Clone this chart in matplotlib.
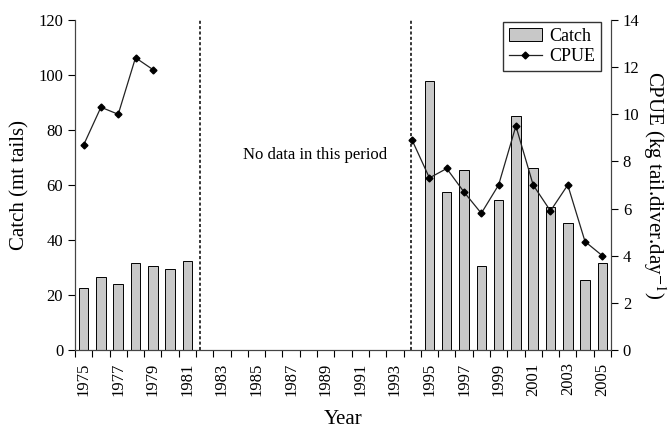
import numpy as np
import matplotlib
matplotlib.use('Agg')
import matplotlib.pyplot as plt

plt.rcParams['font.family'] = ['Liberation Serif', 'DejaVu Serif']
plt.rcParams['mathtext.fontset'] = 'stix'

years = list(range(1975, 2006))
catch = [22.5, 26.5, 24, 31.6, 30.5, 29.5, 32.2,
         np.nan, np.nan, np.nan, np.nan, np.nan, np.nan, np.nan,
         np.nan, np.nan, np.nan, np.nan, np.nan, np.nan,
         98, 57.5, 65.5, 30.5, 54.5, 85, 66, 52, 46, 25.5, 31.5]
cpue = [8.7, 10.3, 10.0, 12.4, 11.9, np.nan, np.nan,
        np.nan, np.nan, np.nan, np.nan, np.nan, np.nan, np.nan,
        np.nan, np.nan, np.nan, np.nan, np.nan,
        8.9, 7.3, 7.7, 6.7, 5.8, 7.0, 9.5, 7.0, 5.9, 7.0, 4.6, 4.0]

x = np.arange(len(years))

fig = plt.figure(figsize=(6.72, 4.33), dpi=100)
ax = fig.add_axes([0.1116, 0.1917, 0.7976, 0.7621])
ax2 = ax.twinx()

bars = ax.bar(x, catch, width=0.55, color='#c8c8c8', edgecolor='black', linewidth=0.7, label='Catch')
line, = ax2.plot(x, cpue, color='#222222', linewidth=0.9, marker='D', markersize=3.5,
                 markerfacecolor='black', markeredgecolor='black', label='CPUE')

# period without data
ax.axvline(6.73, color='black', linestyle=(0, (2, 1.5)), linewidth=1.1)
ax.axvline(18.92, color='black', linestyle=(0, (2, 1.5)), linewidth=1.1)
ax.text(13.4, 71, 'No data in this period', ha='center', va='center', fontsize=12)

ax.set_xlim(-0.5, len(years) - 0.5)
ax.set_ylim(0, 120)
ax2.set_ylim(0, 14)
ax.set_yticks(range(0, 121, 20))
ax2.set_yticks(range(0, 15, 2))

ax.set_xticks(x[::2])
ax.set_xticklabels([str(y) for y in years[::2]], rotation=90, fontsize=12)
ax.set_xticks(np.arange(-0.5, len(years), 1), minor=True)
ax.tick_params(axis='x', which='major', length=0, pad=9)
ax.tick_params(axis='x', which='minor', length=5, width=0.8, direction='out')
ax.tick_params(axis='y', labelsize=12, length=5, width=0.8, direction='out')
ax2.tick_params(axis='y', labelsize=12, length=5, width=0.8, direction='out')

for a in (ax, ax2):
    a.spines['top'].set_visible(False)
    for s in ('left', 'right', 'bottom'):
        a.spines[s].set_linewidth(0.8)
        a.spines[s].set_color('#444444')

ax.set_xlabel('Year', fontsize=15, labelpad=10)
ax.set_ylabel('Catch (mt tails)', fontsize=15, labelpad=6)
ax2.set_ylabel('CPUE (kg tail.diver.day$^{-1}$)', fontsize=15, rotation=270, labelpad=20)

leg = ax2.legend([bars, line], ['Catch', 'CPUE'], loc='upper right', bbox_to_anchor=(0.985, 1.0),
                 fontsize=13, frameon=True, fancybox=False, edgecolor='black',
                 handlelength=1.8, handletextpad=0.4, borderpad=0.35, labelspacing=0.15,
                 borderaxespad=0.1)
leg.get_frame().set_linewidth(1.0)

fig.savefig('out.png', dpi=100)
